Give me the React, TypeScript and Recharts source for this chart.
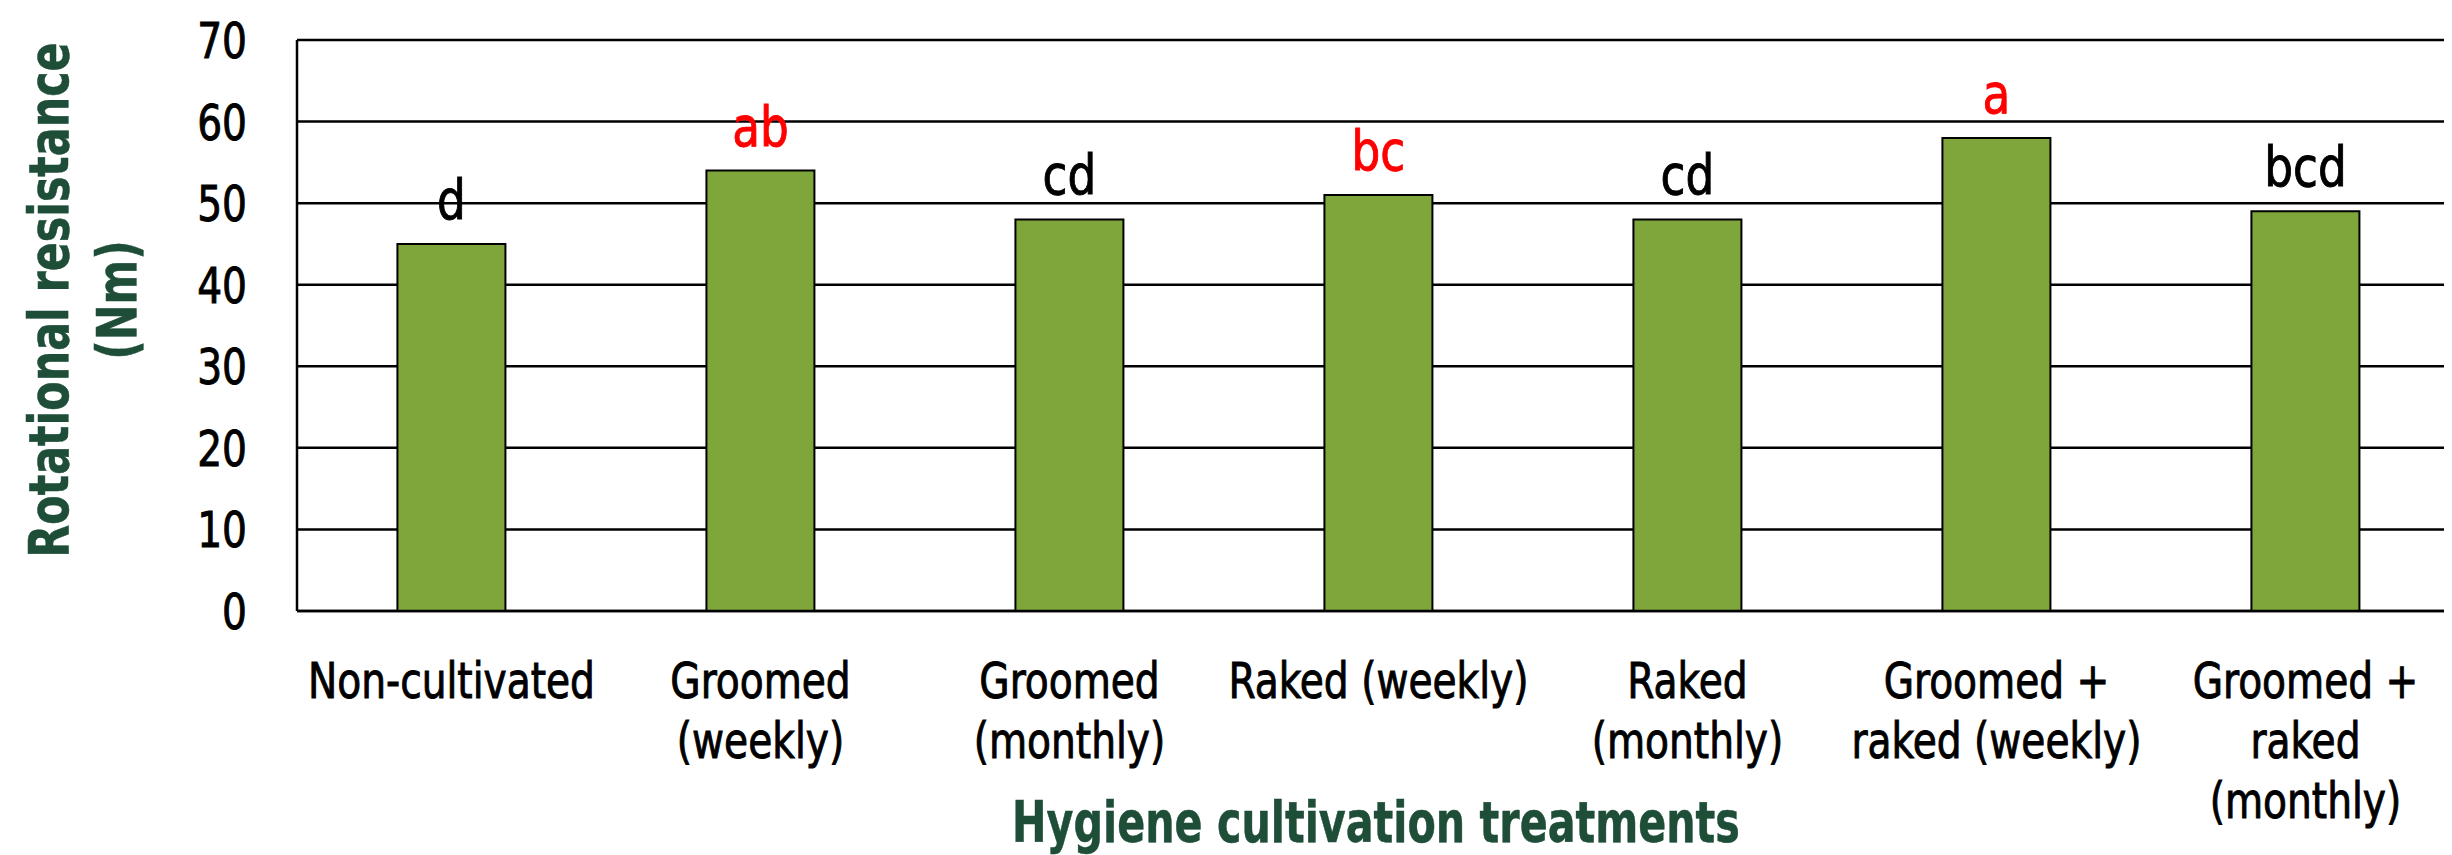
import React from 'react';
import { BarChart, Bar, XAxis, YAxis, CartesianGrid, LabelList } from 'recharts';

const categories = [
  'Non-cultivated',
  'Groomed\n(weekly)',
  'Groomed\n(monthly)',
  'Raked (weekly)',
  'Raked\n(monthly)',
  'Groomed +\nraked (weekly)',
  'Groomed +\nraked\n(monthly)',
];
const values = [45, 54, 48, 51, 48, 58, 49];
const letters = ['d', 'ab', 'cd', 'bc', 'cd', 'a', 'bcd'];
const highlighted = [false, true, false, true, false, true, false];
const yTicks = [0, 10, 20, 30, 40, 50, 60, 70];
const yTitleLines = ['Rotational resistance', '(Nm)'];
const xTitle = 'Hygiene cultivation treatments';

const data = categories.map((c, i) => ({ name: c, value: values[i], letter: letters[i] }));

const FONT = "'DejaVu Sans Condensed', 'DejaVu Sans', sans-serif";
const TITLE_COLOR = '#1E4D38';

const SText = (p: any) => {
  const { x, y, sx = 1, rotate = 0, children, fill = '#000', size = 50, bold = false, thick = 0.9, anchor = 'middle' } = p;
  return (
    <text
      transform={`translate(${x},${y})${rotate ? ` rotate(${rotate})` : ''} scale(${sx},1)`}
      x={0}
      y={0}
      textAnchor={anchor}
      fontFamily={FONT}
      fontWeight={bold ? 'bold' : 'normal'}
      fontSize={size}
      fill={fill}
      stroke={fill}
      strokeWidth={thick}
    >
      {children}
    </text>
  );
};

const XTick = (props: any) => {
  const { x, y, payload } = props;
  const lines = String(payload.value).split('\n');
  return (
    <g>
      {lines.map((l: string, i: number) => (
        <SText key={i} x={x} y={y + 79 + i * 60} sx={0.87} size={50}>
          {l}
        </SText>
      ))}
    </g>
  );
};

const YTick = (props: any) => {
  const { x, y, payload } = props;
  return (
    <SText x={x} y={y + 18} sx={0.87} size={50} anchor="end">
      {payload.value}
    </SText>
  );
};

const LetterLabel = (props: any) => {
  const { x, y, width, index } = props;
  return (
    <SText x={x + width / 2} y={y - 25} sx={0.9} size={56} fill={highlighted[index] ? '#FF0000' : '#000'}>
      {letters[index]}
    </SText>
  );
};

const YTitle = () => {
  const cy = 300;
  return (
    <g>
      <SText x={68} y={cy} rotate={-90} sx={0.85} size={56} bold thick={0.5} fill={TITLE_COLOR}>
        {yTitleLines[0]}
      </SText>
      <SText x={136} y={cy} rotate={-90} sx={0.85} size={56} bold thick={0.5} fill={TITLE_COLOR}>
        {yTitleLines[1]}
      </SText>
    </g>
  );
};

const XTitle = () => (
  <SText x={1376} y={842} sx={0.805} size={57} bold thick={0.5} fill={TITLE_COLOR}>
    {xTitle}
  </SText>
);

export default function App() {
  return (
    <div style={{ marginLeft: -8, marginTop: -8, width: 2452, height: 855, overflow: 'hidden', background: '#fff' }}>
      <BarChart
        width={2480}
        height={855}
        data={data}
        margin={{ top: 40, right: 20, bottom: 0, left: 97 }}
        barCategoryGap="32.5%"
      >
        <CartesianGrid vertical={false} stroke="#000" strokeWidth={2.5} />
        <XAxis
          dataKey="name"
          height={244}
          axisLine={{ stroke: '#000', strokeWidth: 2.5 }}
          tickLine={false}
          tick={<XTick />}
          interval={0}
          label={<XTitle />}
        />
        <YAxis
          width={200}
          domain={[0, 70]}
          ticks={yTicks}
          axisLine={{ stroke: '#000', strokeWidth: 2.5 }}
          tickLine={false}
          tickSize={0}
          tickMargin={50}
          tick={<YTick />}
          interval={0}
          label={<YTitle />}
        />
        <Bar dataKey="value" fill="#7FA63B" stroke="#000" strokeWidth={2} isAnimationActive={false}>
          <LabelList dataKey="letter" content={<LetterLabel />} />
        </Bar>
      </BarChart>
    </div>
  );
}
